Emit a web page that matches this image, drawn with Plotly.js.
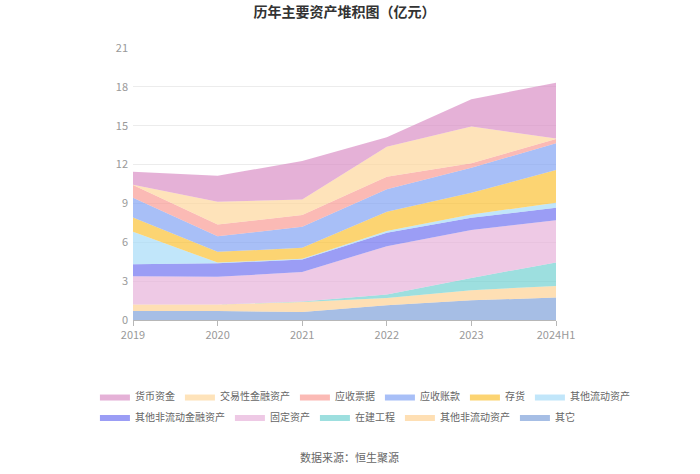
<!DOCTYPE html>
<html>
<head>
<meta charset="utf-8">
<script src="https://cdn.plot.ly/plotly-3.0.1.min.js"></script>
<style>html,body{margin:0;padding:0;background:#fff;}#chart{width:700px;height:474px;}</style>
</head>
<body>
<div id="chart"></div>
<script>
// Categories (years)
const years = ["2019", "2020", "2021", "2022", "2023", "2024H1"];

// Series values (亿元), bottom of stack to top
const qita        = [0.70, 0.70, 0.62, 1.14, 1.52, 1.73]; // 其它
const qtfldzc     = [0.49, 0.49, 0.77, 0.56, 0.78, 0.90]; // 其他非流动资产
const zjgc        = [0.00, 0.00, 0.04, 0.26, 0.95, 1.81]; // 在建工程
const gdzc        = [2.19, 2.14, 2.28, 3.74, 3.69, 3.27]; // 固定资产
const qtfldjrzc   = [0.93, 1.05, 0.96, 1.03, 0.95, 0.95]; // 其他非流动金融资产
const qtldzc      = [2.50, 0.05, 0.05, 0.15, 0.26, 0.39]; // 其他流动资产
const ch          = [1.11, 0.83, 0.85, 1.47, 1.67, 2.53]; // 存货
const yszk        = [1.52, 1.21, 1.62, 1.75, 1.94, 2.06]; // 应收账款
const yspj        = [0.98, 0.90, 0.91, 0.96, 0.34, 0.33]; // 应收票据
const jyxjrzc     = [0.03, 1.76, 1.21, 2.31, 2.83, 0.05]; // 交易性金融资产
const hbzj        = [1.00, 2.01, 2.96, 0.73, 2.12, 4.30]; // 货币资金

const seriesNames = ["其它", "其他非流动资产", "在建工程", "固定资产", "其他非流动金融资产",
                     "其他流动资产", "存货", "应收账款", "应收票据", "交易性金融资产", "货币资金"];
const seriesData = [qita, qtfldzc, zjgc, gdzc, qtfldjrzc, qtldzc, ch, yszk, yspj, jyxjrzc, hbzj];
const seriesColors = ["124,159,216", "253,208,144", "111,208,208", "230,176,216", "107,111,240",
                      "163,218,247", "251,191,47", "127,160,243", "249,154,146", "253,214,153", "217,140,196"];
const legendOf = ["legend2", "legend2", "legend2", "legend2", "legend2",
                  "legend", "legend", "legend", "legend", "legend", "legend"];

const yTicks = [0, 3, 6, 9, 12, 15, 18, 21];

const traces = seriesNames.map((name, i) => ({
  type: "scatter",
  mode: "lines",
  name: name,
  x: years,
  y: seriesData[i],
  stackgroup: "one",
  line: {width: 0, color: "rgba(" + seriesColors[i] + ",1)"},
  fillcolor: "rgba(" + seriesColors[i] + ",0.68)",
  legend: legendOf[i],
  hoverinfo: "skip"
}));

const legendCommon = {
  orientation: "h",
  traceorder: "reversed",
  font: {family: "Noto Sans CJK SC, sans-serif", size: 10, color: "#666"},
  bgcolor: "rgba(0,0,0,0)",
  itemwidth: 30,
  xanchor: "left",
  yanchor: "top",
  itemclick: false
};

const layout = {
  width: 700,
  height: 474,
  margin: {l: 133, r: 144, t: 48, b: 154},
  paper_bgcolor: "#fff",
  plot_bgcolor: "#fff",
  font: {family: "Noto Sans CJK SC, sans-serif", color: "#999", size: 11},
  title: {
    text: "<b>历年主要资产堆积图（亿元）</b>",
    font: {family: "Noto Sans CJK SC, sans-serif", size: 14, color: "#333"},
    x: 0.5, xref: "paper", xanchor: "center",
    y: 0.975, yref: "container", yanchor: "middle"
  },
  xaxis: {
    type: "category",
    range: [0, 5],
    showgrid: false,
    showline: true,
    linecolor: "#b7b7b7",
    linewidth: 1,
    ticks: "outside",
    ticklen: 5,
    tickcolor: "#b7b7b7",
    tickfont: {size: 11, color: "#999"},
    zeroline: false,
    fixedrange: true
  },
  yaxis: {
    range: [0, 21],
    tickvals: yTicks,
    ticktext: yTicks.map(String),
    showgrid: true,
    gridcolor: "#ececec",
    showline: false,
    zeroline: false,
    ticks: "",
    ticklabelstandoff: 4,
    tickfont: {size: 11, color: "#999"},
    fixedrange: true
  },
  legend: Object.assign({}, legendCommon, {x: -0.09, y: -0.228}),
  legend2: Object.assign({}, legendCommon, {x: -0.09, y: -0.303}),
  annotations: [{
    text: "数据来源：恒生聚源",
    xref: "paper", yref: "paper",
    x: 0.513, y: -0.504,
    xanchor: "center", yanchor: "middle",
    showarrow: false,
    font: {family: "Noto Sans CJK SC, sans-serif", size: 11, color: "#666"}
  }],
  showlegend: true
};

Plotly.newPlot("chart", traces, layout, {displayModeBar: false, staticPlot: true});
</script>
</body>
</html>
